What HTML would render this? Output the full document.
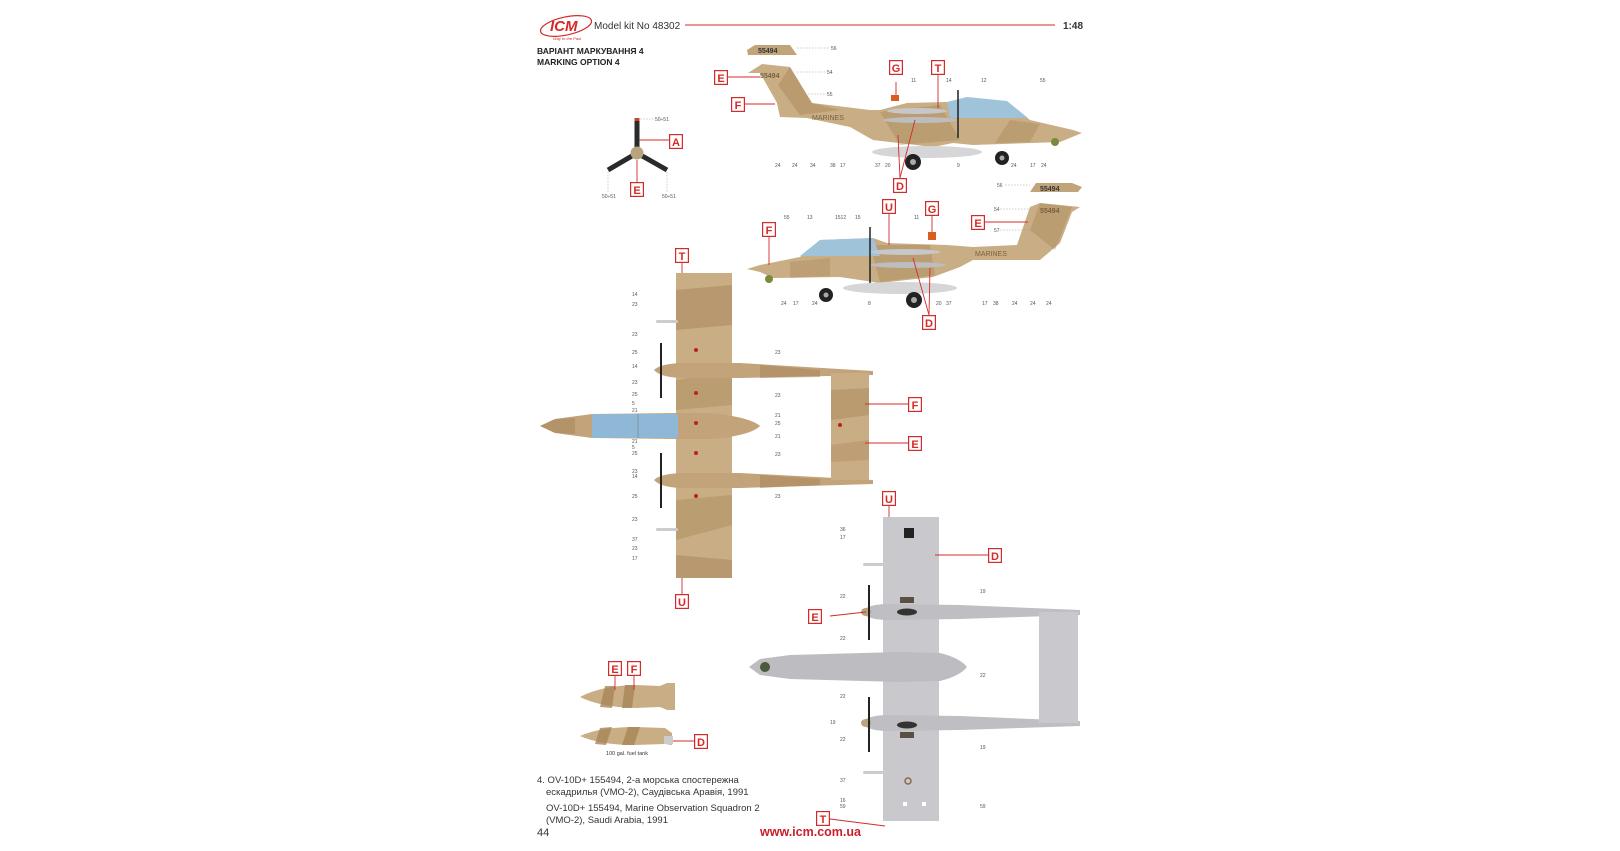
<!DOCTYPE html>
<html><head><meta charset="utf-8"><style>
html,body{margin:0;padding:0;background:#fff;}
svg{display:block;}
text{font-family:"Liberation Sans","DejaVu Sans",sans-serif;}
.n{font-size:5px;fill:#555;}
.lt{font-size:11px;font-weight:bold;fill:#d42a2a;text-anchor:middle;}
.rl{stroke:#d42a2a;stroke-width:0.9;fill:none;}
.dl{stroke:#999;stroke-width:0.5;stroke-dasharray:1.5 1.5;fill:none;}
</style></head><body>
<svg width="1620" height="851" viewBox="0 0 1620 851" xmlns="http://www.w3.org/2000/svg">
<defs>
<symbol id="lbl" viewBox="0 0 14 15"><rect x="0.6" y="0.6" width="12.8" height="13.8" fill="#fff" stroke="#d42a2a" stroke-width="1.2"/></symbol>
</defs>
<!-- header -->
<ellipse cx="566" cy="26" rx="26" ry="9" fill="none" stroke="#d42a2a" stroke-width="1.2" transform="rotate(-12 566 26)"/>
<text x="550" y="31" font-size="15" font-weight="bold" fill="#d42a2a" font-style="italic">ICM</text>
<text x="553" y="40" font-size="4" fill="#d42a2a" font-style="italic">Way to the Past</text>
<text x="594" y="29" font-size="10" fill="#333">Model kit No 48302</text>
<line x1="685" y1="25" x2="1055" y2="25" stroke="#d42a2a" stroke-width="1"/>
<text x="1063" y="29" font-size="10" font-weight="bold" fill="#333">1:48</text>
<text x="537" y="54" font-size="8.5" font-weight="bold" fill="#222">ВАРІАНТ МАРКУВАННЯ 4</text>
<text x="537" y="65" font-size="8.5" font-weight="bold" fill="#222">MARKING OPTION 4</text>

<!-- propeller -->
<g>
<line x1="637" y1="153" x2="637" y2="119" stroke="#2a2a2a" stroke-width="5"/>
<line x1="637" y1="153" x2="608" y2="170" stroke="#2a2a2a" stroke-width="5"/>
<line x1="637" y1="153" x2="667" y2="170" stroke="#2a2a2a" stroke-width="5"/>
<rect x="634.5" y="118" width="5" height="3" fill="#c42"/>
<circle cx="637" cy="153" r="6.5" fill="#b9a27e"/>
<line class="dl" x1="640" y1="119" x2="655" y2="119"/><text class="n" x="655" y="121">50÷51</text>
<line class="dl" x1="608" y1="172" x2="608" y2="192"/><text class="n" x="602" y="198">50÷51</text>
<line class="dl" x1="667" y1="172" x2="667" y2="192"/><text class="n" x="662" y="198">50÷51</text>
<line class="rl" x1="639" y1="140" x2="670" y2="140"/>
<use href="#lbl" x="669" y="134" width="14" height="15"/><text class="lt" x="676" y="146">A</text>
<line class="rl" x1="637" y1="160" x2="637" y2="182"/>
<use href="#lbl" x="630" y="182" width="14" height="15"/><text class="lt" x="637" y="194">E</text>
</g>

<!-- side view 1 -->
<g>
<path d="M747,50 L755,45 L790,45 L797,55 L748,55 Z" fill="#c2a47a"/>
<text x="758" y="53" font-size="7" fill="#333" font-weight="bold">55494</text>
<line class="dl" x1="797" y1="48" x2="830" y2="48"/><text class="n" x="831" y="50">56</text>
<path d="M748,73 L762,64 L790,67 L812,103 L870,110 L880,110 L907,103 L947,102 L967,98 L1007,103 L1030,120 L1073,130 L1082,133 L1060,142 L973,145 L953,143 L933,147 L873,140 L850,127 L807,118 L780,117 L777,103 L760,73 Z" fill="#c9ad84"/>
<path d="M790,67 L812,103 L840,110 L800,115 L778,85 Z" fill="#a88458" opacity="0.45"/>
<path d="M880,112 L940,105 L960,140 L900,145 Z" fill="#a88458" opacity="0.4"/>
<path d="M1010,120 L1040,124 L1030,142 L995,143 Z" fill="#a88458" opacity="0.4"/>
<path d="M947,102 L967,97 L1007,101 L1028,118 L950,118 Z" fill="#9fc3d9"/>
<text x="760" y="78" font-size="7" fill="#7a6040" font-weight="bold">55494</text>
<text x="812" y="120" font-size="7" fill="#7a6040">MARINES</text>
<ellipse cx="917" cy="111" rx="30" ry="3" fill="#c7c7c9"/>
<ellipse cx="920" cy="120" rx="37" ry="3" fill="#bdbdbf"/>
<ellipse cx="927" cy="152" rx="55" ry="6" fill="#d6d6d8"/>
<line x1="958" y1="90" x2="958" y2="138" stroke="#222" stroke-width="1.5"/>
<rect x="891" y="95" width="8" height="6" fill="#d8601e"/>
<circle cx="913" cy="162" r="8" fill="#222"/><circle cx="913" cy="162" r="3" fill="#aaa"/>
<circle cx="1002" cy="158" r="7" fill="#222"/><circle cx="1002" cy="158" r="2.5" fill="#aaa"/>
<circle cx="1055" cy="142" r="4" fill="#7a8a3a"/>
<line class="dl" x1="797" y1="72" x2="825" y2="72"/><text class="n" x="827" y="74">54</text>
<line class="dl" x1="805" y1="94" x2="825" y2="94"/><text class="n" x="827" y="96">55</text>
<g class="n"><text x="775" y="167">24</text><text x="792" y="167">24</text><text x="810" y="167">34</text><text x="830" y="167">38</text><text x="840" y="167">17</text><text x="875" y="167">37</text><text x="885" y="167">20</text><text x="957" y="167">9</text><text x="1011" y="167">24</text><text x="1030" y="167">17</text><text x="1041" y="167">24</text><text x="911" y="82">11</text><text x="946" y="82">14</text><text x="981" y="82">12</text><text x="1040" y="82">55</text></g>
<line class="rl" x1="728" y1="77" x2="760" y2="77"/>
<use href="#lbl" x="714" y="70" width="14" height="15"/><text class="lt" x="721" y="82">E</text>
<line class="rl" x1="745" y1="104" x2="775" y2="104"/>
<use href="#lbl" x="731" y="97" width="14" height="15"/><text class="lt" x="738" y="109">F</text>
<line class="rl" x1="896" y1="82" x2="896" y2="95"/>
<use href="#lbl" x="889" y="60" width="14" height="15"/><text class="lt" x="896" y="72">G</text>
<line class="rl" x1="938" y1="75" x2="938" y2="108"/>
<use href="#lbl" x="931" y="60" width="14" height="15"/><text class="lt" x="938" y="72">T</text>
<line class="rl" x1="900" y1="178" x2="915" y2="120"/><line class="rl" x1="900" y1="178" x2="898" y2="135"/>
<use href="#lbl" x="893" y="178" width="14" height="15"/><text class="lt" x="900" y="190">D</text>
</g>

<!-- side view 2 -->
<g>
<path d="M1030,192 L1036,183 L1072,183 L1082,187 L1078,192 Z" fill="#c2a47a"/>
<text x="1040" y="191" font-size="7" fill="#333" font-weight="bold">55494</text>
<line class="dl" x1="1005" y1="185" x2="1030" y2="185"/><text class="n" x="997" y="187">56</text>
<path d="M747,269 L760,265 L800,257 L820,240 L873,238 L887,243 L947,245 L973,247 L1017,245 L1030,207 L1040,203 L1080,207 L1072,212 L1060,243 L1040,260 L973,260 L960,267 L933,277 L880,283 L840,277 L773,278 L760,272 Z" fill="#c9ad84"/>
<path d="M1040,203 L1072,207 L1055,250 L1030,230 Z" fill="#a88458" opacity="0.4"/>
<path d="M870,245 L930,245 L935,275 L880,282 Z" fill="#a88458" opacity="0.4"/>
<path d="M790,262 L830,258 L830,276 L790,278 Z" fill="#a88458" opacity="0.35"/>
<path d="M800,256 L820,240 L873,238 L880,256 Z" fill="#9fc3d9"/>
<text x="1040" y="213" font-size="7" fill="#7a6040" font-weight="bold">55494</text>
<text x="975" y="256" font-size="7" fill="#7a6040">MARINES</text>
<ellipse cx="905" cy="252" rx="35" ry="3" fill="#c7c7c9"/>
<ellipse cx="908" cy="265" rx="38" ry="3" fill="#bdbdbf"/>
<ellipse cx="900" cy="288" rx="57" ry="6" fill="#d6d6d8"/>
<line x1="870" y1="227" x2="870" y2="283" stroke="#222" stroke-width="1.5"/>
<rect x="928" y="232" width="8" height="8" fill="#d8601e"/>
<circle cx="826" cy="295" r="7" fill="#222"/><circle cx="826" cy="295" r="2.5" fill="#aaa"/>
<circle cx="914" cy="300" r="8" fill="#222"/><circle cx="914" cy="300" r="3" fill="#aaa"/>
<circle cx="769" cy="279" r="4" fill="#7a8a3a"/>
<line class="dl" x1="1000" y1="209" x2="1030" y2="209"/><text class="n" x="994" y="211">54</text>
<line class="dl" x1="1000" y1="230" x2="1040" y2="230"/><text class="n" x="994" y="232">57</text>
<g class="n"><text x="781" y="305">24</text><text x="793" y="305">17</text><text x="812" y="305">24</text><text x="868" y="305">8</text><text x="936" y="305">20</text><text x="946" y="305">37</text><text x="982" y="305">17</text><text x="993" y="305">38</text><text x="1012" y="305">24</text><text x="1030" y="305">24</text><text x="1046" y="305">24</text><text x="784" y="219">55</text><text x="807" y="219">13</text><text x="835" y="219">1512</text><text x="855" y="219">15</text><text x="914" y="219">11</text></g>
<line class="rl" x1="769" y1="236" x2="769" y2="265"/>
<use href="#lbl" x="762" y="222" width="14" height="15"/><text class="lt" x="769" y="234">F</text>
<line class="rl" x1="889" y1="213" x2="889" y2="245"/>
<use href="#lbl" x="882" y="199" width="14" height="15"/><text class="lt" x="889" y="211">U</text>
<line class="rl" x1="932" y1="215" x2="932" y2="232"/>
<use href="#lbl" x="925" y="201" width="14" height="15"/><text class="lt" x="932" y="213">G</text>
<line class="rl" x1="985" y1="222" x2="1028" y2="222"/>
<use href="#lbl" x="971" y="215" width="14" height="15"/><text class="lt" x="978" y="227">E</text>
<line class="rl" x1="929" y1="315" x2="913" y2="258"/><line class="rl" x1="929" y1="315" x2="930" y2="268"/>
<use href="#lbl" x="922" y="315" width="14" height="15"/><text class="lt" x="929" y="327">D</text>
</g>

<!-- top view (desert) -->
<g>
<rect x="676" y="273" width="56" height="305" fill="#c9ad84"/>
<path d="M676,290 L732,285 L732,325 L676,330 Z" fill="#a88458" opacity="0.5"/>
<path d="M676,380 L732,372 L732,405 L676,410 Z" fill="#a88458" opacity="0.4"/>
<path d="M676,500 L732,495 L732,525 L676,540 Z" fill="#a88458" opacity="0.4"/>
<path d="M676,555 L732,560 L732,578 L676,578 Z" fill="#a88458" opacity="0.5"/>
<path d="M654,370 Q660,364 680,363 L740,363 L873,371 L873,375 L740,378 L680,378 Q660,377 654,370 Z" fill="#c2a37a"/>
<path d="M654,480 Q660,474 680,473 L740,473 L873,480 L873,484 L740,488 L680,488 Q660,487 654,480 Z" fill="#c2a37a"/>
<path d="M760,365 L820,370 L820,377 L760,378 Z" fill="#a88458" opacity="0.5"/>
<path d="M760,475 L820,479 L820,485 L760,488 Z" fill="#a88458" opacity="0.5"/>
<rect x="831" y="373" width="38" height="107" fill="#c9ad84"/>
<path d="M831,390 L869,388 L869,415 L831,420 Z" fill="#a88458" opacity="0.45"/>
<path d="M831,445 L869,440 L869,460 L831,462 Z" fill="#a88458" opacity="0.35"/>
<path d="M540,426 L555,419 L592,414 L678,413 L710,413 Q750,417 760,426 Q750,436 710,439 L678,439 L592,438 L555,433 Z" fill="#c2a37a"/>
<path d="M540,426 L555,419 L575,418 L575,434 L555,433 Z" fill="#a88458" opacity="0.5"/>
<rect x="592" y="414" width="86" height="24" fill="#8fb8d6"/>
<line x1="638" y1="414" x2="638" y2="438" stroke="#7a8d9a" stroke-width="0.8"/>
<line x1="661" y1="343" x2="661" y2="398" stroke="#222" stroke-width="2"/>
<line x1="661" y1="453" x2="661" y2="508" stroke="#222" stroke-width="2"/>
<rect x="656" y="320" width="22" height="3" rx="1.5" fill="#ccc"/>
<rect x="656" y="528" width="22" height="3" rx="1.5" fill="#ccc"/>
<g fill="#b22"><circle cx="696" cy="350" r="2"/><circle cx="696" cy="393" r="2"/><circle cx="696" cy="423" r="2"/><circle cx="696" cy="453" r="2"/><circle cx="696" cy="496" r="2"/><circle cx="840" cy="425" r="2"/></g>
<g class="n"><text x="632" y="296">14</text><text x="632" y="306">23</text><text x="632" y="336">23</text><text x="632" y="354">25</text><text x="632" y="368">14</text><text x="632" y="384">23</text><text x="632" y="396">25</text><text x="632" y="405">5</text><text x="632" y="412">21</text><text x="632" y="443">21</text><text x="632" y="449">5</text><text x="632" y="455">25</text><text x="632" y="473">23</text><text x="632" y="478">14</text><text x="632" y="498">25</text><text x="632" y="521">23</text><text x="632" y="541">37</text><text x="632" y="550">23</text><text x="632" y="560">17</text><text x="775" y="354">23</text><text x="775" y="397">23</text><text x="775" y="417">21</text><text x="775" y="425">25</text><text x="775" y="438">21</text><text x="775" y="456">23</text><text x="775" y="498">23</text></g>
<line class="rl" x1="682" y1="262" x2="682" y2="273"/>
<use href="#lbl" x="675" y="248" width="14" height="15"/><text class="lt" x="682" y="260">T</text>
<line class="rl" x1="682" y1="578" x2="682" y2="594"/>
<use href="#lbl" x="675" y="594" width="14" height="15"/><text class="lt" x="682" y="606">U</text>
<line class="rl" x1="865" y1="404" x2="908" y2="404"/>
<use href="#lbl" x="908" y="397" width="14" height="15"/><text class="lt" x="915" y="409">F</text>
<line class="rl" x1="865" y1="443" x2="908" y2="443"/>
<use href="#lbl" x="908" y="436" width="14" height="15"/><text class="lt" x="915" y="448">E</text>
</g>

<!-- bottom view (gray) -->
<g>
<rect x="883" y="517" width="56" height="304" fill="#c9c9cd"/>
<rect x="904" y="528" width="10" height="10" fill="#222"/>
<path d="M861,612 Q866,605 885,604 L960,605 L1080,610 L1080,615 L960,619 L885,620 Q866,619 861,612 Z" fill="#bfbfc3"/>
<path d="M861,723 Q866,716 885,715 L960,716 L1080,721 L1080,726 L960,730 L885,731 Q866,730 861,723 Z" fill="#bfbfc3"/>
<rect x="1039" y="612" width="39" height="111" fill="#c9c9cd"/>
<path d="M749,667 L760,659 L790,655 L900,652 L940,653 Q960,658 967,667 Q960,676 940,681 L900,682 L790,679 L760,675 Z" fill="#bdbdc1"/>
<circle cx="765" cy="667" r="5" fill="#4a5a3a"/>
<ellipse cx="907" cy="612" rx="10" ry="3.5" fill="#333"/>
<ellipse cx="907" cy="725" rx="10" ry="3.5" fill="#333"/>
<rect x="900" y="597" width="14" height="6" fill="#5a5040"/>
<rect x="900" y="732" width="14" height="6" fill="#5a5040"/>
<ellipse cx="866" cy="612" rx="5" ry="4" fill="#b9a27e"/>
<ellipse cx="866" cy="723" rx="5" ry="4" fill="#b9a27e"/>
<line x1="869" y1="585" x2="869" y2="640" stroke="#222" stroke-width="2"/>
<line x1="869" y1="697" x2="869" y2="752" stroke="#222" stroke-width="2"/>
<rect x="863" y="563" width="22" height="3" rx="1.5" fill="#ccc"/>
<rect x="863" y="771" width="22" height="3" rx="1.5" fill="#ccc"/>
<circle cx="908" cy="781" r="3" fill="none" stroke="#8a6a4a" stroke-width="1.5"/>
<rect x="903" y="802" width="4" height="4" fill="#fff"/><rect x="922" y="802" width="4" height="4" fill="#fff"/>
<g class="n"><text x="840" y="531">36</text><text x="840" y="539">17</text><text x="840" y="598">22</text><text x="840" y="640">22</text><text x="840" y="698">22</text><text x="840" y="741">22</text><text x="840" y="782">37</text><text x="840" y="802">16</text><text x="840" y="808">59</text><text x="830" y="724">19</text><text x="980" y="593">19</text><text x="980" y="677">22</text><text x="980" y="749">19</text><text x="980" y="808">59</text></g>
<line class="rl" x1="889" y1="505" x2="889" y2="517"/>
<use href="#lbl" x="882" y="491" width="14" height="15"/><text class="lt" x="889" y="503">U</text>
<line class="rl" x1="935" y1="555" x2="988" y2="555"/>
<use href="#lbl" x="988" y="548" width="14" height="15"/><text class="lt" x="995" y="560">D</text>
<line class="rl" x1="830" y1="616" x2="866" y2="612"/>
<use href="#lbl" x="808" y="609" width="14" height="15"/><text class="lt" x="815" y="621">E</text>
<line class="rl" x1="830" y1="819" x2="885" y2="826"/>
<use href="#lbl" x="816" y="811" width="14" height="15"/><text class="lt" x="823" y="823">T</text>
</g>

<!-- fuel tanks -->
<g>
<path d="M580,697 Q600,686 635,685 L660,686 L667,683 L675,683 L675,710 L667,710 L660,707 L635,708 Q600,707 580,697 Z" fill="#c9ad84"/>
<path d="M605,686 L615,686 L612,708 L600,707 Z M625,685 L635,685 L632,708 L622,708 Z" fill="#a88458" opacity="0.8"/>
<path d="M580,736 Q600,727 635,727 L665,728 L672,733 L672,745 L665,744 L635,745 Q600,745 580,736 Z" fill="#c9ad84"/>
<path d="M600,728 L612,727 L606,745 L595,744 Z M628,727 L640,727 L634,745 L622,745 Z" fill="#a88458" opacity="0.8"/>
<rect x="664" y="736" width="9" height="8" fill="#ccc"/>
<text x="627" y="755" font-size="5.5" fill="#333" text-anchor="middle">100 gal. fuel tank</text>
<line class="rl" x1="615" y1="676" x2="615" y2="690"/>
<use href="#lbl" x="608" y="661" width="14" height="15"/><text class="lt" x="615" y="673">E</text>
<line class="rl" x1="634" y1="676" x2="634" y2="690"/>
<use href="#lbl" x="627" y="661" width="14" height="15"/><text class="lt" x="634" y="673">F</text>
<line class="rl" x1="673" y1="741" x2="694" y2="741"/>
<use href="#lbl" x="694" y="734" width="14" height="15"/><text class="lt" x="701" y="746">D</text>
</g>

<!-- caption -->
<g font-size="9.5" fill="#333">
<text x="537" y="783">4. OV-10D+ 155494, 2-а морська спостережна</text>
<text x="546" y="795">ескадрилья (VMO-2), Саудівська Аравія, 1991</text>
<text x="546" y="811">OV-10D+  155494, Marine Observation Squadron 2</text>
<text x="546" y="823">(VMO-2), Saudi Arabia, 1991</text>
<text x="537" y="836" font-size="11">44</text>
</g>
<text x="760" y="836" font-size="12.5" font-weight="bold" fill="#c8202a">www.icm.com.ua</text>
</svg>
</body></html>
